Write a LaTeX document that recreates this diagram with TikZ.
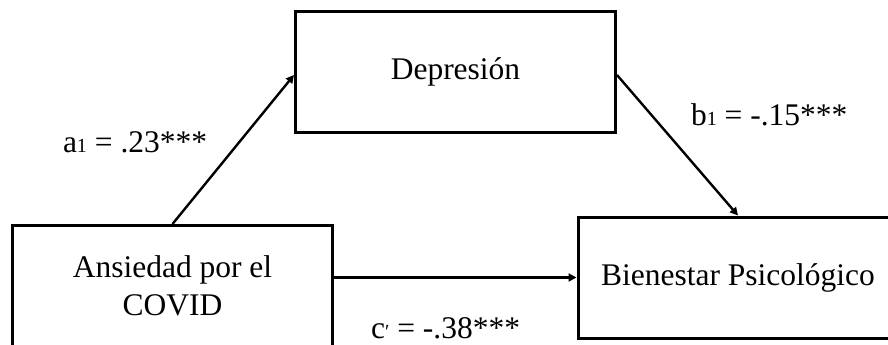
\documentclass[tikz,border=0pt]{standalone}
\usepackage{fontspec}
\setmainfont{Liberation Serif}
\usetikzlibrary{arrows.meta, calc, positioning}
\newcommand{\sbs}[1]{{\fontsize{20}{20}\selectfont #1}}

\begin{document}
\begin{tikzpicture}[% styles used in image code
         x = 1pt, y = -1pt,
         > = {Triangle[length=8pt, width=8pt]}, % defined in "arrows.meta
box/.style = {draw, line width=3pt,
              minimum width=320pt, minimum height=121pt,
              inner sep=0pt, align=center,
              font=\fontsize{31.5}{38}\selectfont},
lbl/.style = {inner sep=0pt, font=\fontsize{31.5}{38}\selectfont},
arr/.style = {->, line width=2.4pt}
                        ]
	\useasboundingbox (0,0) rectangle (888,345);
	% boxes
	\node[box] (dep)  at (455.5,72)  {Depresión};
	\node[box] (ans)  at (172.5,286) {Ansiedad por el\\COVID};
	\node[box] (bien) at (738,277.5) {Bienestar Psicológico};

	% paths
	\draw[arr] (ans.north) -- ([yshift=-3pt]dep.west) node[lbl,pos=0.55,left=31pt] {a\sbs{1} = .23***};
	\draw[arr] ([yshift=-3pt]dep.east) -- (bien.north) node[lbl,pos=0.28,right=39pt] {b\sbs{1} = -.15***};
	\draw[arr] (ans.east |- bien.west) -- (bien.west) node[lbl,pos=0.46,below=39pt] {c\sbs{′} = -.38***};
\end{tikzpicture}
\end{document}
